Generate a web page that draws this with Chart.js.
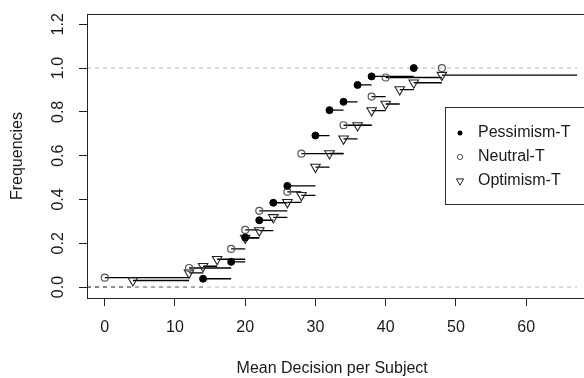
<!DOCTYPE html>
<html>
<head>
<meta charset="utf-8">
<script src="https://cdn.jsdelivr.net/npm/chart.js@4.4.0/dist/chart.umd.min.js"></script>
<style>html,body{margin:0;padding:0;background:#fff}</style>
</head>
<body>
<canvas id="myChart" width="584" height="378"></canvas>
<script>
// ECDF of mean decision per subject, three treatments
var xTicks = [0, 10, 20, 30, 40, 50, 60];
var yTicks = [0, 0.2, 0.4, 0.6, 0.8, 1.0, 1.2];
var yTickLabels = ['0.0', '0.2', '0.4', '0.6', '0.8', '1.0', '1.2'];
var seriesNames = ['Pessimism-T', 'Neutral-T', 'Optimism-T'];

var pessX = [14, 18, 20, 22, 24, 26, 30, 32, 34, 36, 38, 44];
var pessY = [0.038, 0.115, 0.226, 0.305, 0.385, 0.462, 0.692, 0.808, 0.846, 0.923, 0.962, 1.0];
var neutX = [0, 12, 18, 20, 22, 26, 28, 34, 38, 40, 48];
var neutY = [0.043, 0.087, 0.174, 0.261, 0.348, 0.435, 0.609, 0.739, 0.870, 0.957, 1.0];
var optX = [4, 12, 14, 16, 20, 22, 24, 26, 28, 30, 32, 34, 36, 38, 40, 42, 44, 48];
var optY = [0.03, 0.065, 0.095, 0.127, 0.224, 0.258, 0.318, 0.387, 0.419, 0.548, 0.61, 0.677, 0.738, 0.806, 0.836, 0.902, 0.933, 0.968];

var xMin = -2.53, xMax = 67.3;
var yMin = -0.05, yMax = 1.247;

function pts(xs, ys) {
  return xs.map(function(x, i) { return {x: x, y: ys[i]}; });
}

// horizontal step segments, no verticals
function steps(xs, ys) {
  var out = [];
  for (var i = 0; i < xs.length; i++) {
    var end = i + 1 < xs.length ? xs[i + 1] : (ys[i] < 1 ? xMax : null);
    if (end === null) continue;
    out.push({x: xs[i], y: ys[i]}, {x: end, y: ys[i]}, {x: end, y: null});
  }
  return out;
}

var leading = [];
[pessX, neutX, optX].forEach(function(xs) {
  leading.push({x: xMin, y: 0}, {x: xs[0], y: 0}, {x: xs[0], y: null});
});

var textColor = '#1a1a1a';
Chart.defaults.font.family = '"Liberation Sans", Arial, sans-serif';
Chart.defaults.font.size = 16;
Chart.defaults.color = textColor;

var segStyle = {showLine: true, pointRadius: 0, borderColor: '#000', borderWidth: 1.3, spanGaps: false, fill: false};

var datasets = [
  {label: seriesNames[0], data: pts(pessX, pessY), pointStyle: 'circle', pointRadius: 3.5,
   backgroundColor: '#000', borderColor: '#000', borderWidth: 1},
  {label: seriesNames[1], data: pts(neutX, neutY), pointStyle: 'circle', pointRadius: 3.5,
   backgroundColor: 'rgba(0,0,0,0)', borderColor: '#555', borderWidth: 1.2},
  {label: seriesNames[2], data: pts(optX, optY), pointStyle: 'triangle', rotation: 180, pointRadius: 5.5,
   backgroundColor: 'rgba(0,0,0,0)', borderColor: '#222', borderWidth: 1.1},
  Object.assign({label: 'segP', data: steps(pessX, pessY)}, segStyle),
  Object.assign({label: 'segN', data: steps(neutX, neutY)}, segStyle),
  Object.assign({label: 'segO', data: steps(optX, optY)}, segStyle),
  {label: 'lead', data: leading, showLine: true, pointRadius: 0, borderColor: '#777', borderWidth: 1,
   borderDash: [4, 4], spanGaps: false},
  {label: 'ref', data: [{x: xMin, y: 0}, {x: xMax, y: 0}, {x: xMax, y: null}, {x: xMin, y: 1}, {x: xMax, y: 1}],
   showLine: true, pointRadius: 0, borderColor: '#b5b5b5', borderWidth: 1, borderDash: [4, 4], spanGaps: false}
];

var extras = {
  id: 'extras',
  afterDraw: function(chart) {
    var ctx = chart.ctx, a = chart.chartArea, ys = chart.scales.y;
    ctx.save();
    // box
    ctx.strokeStyle = '#222';
    ctx.lineWidth = 1;
    ctx.strokeRect(a.left + 0.5, a.top + 0.5, a.right - a.left + 10, a.bottom - a.top);
    // rotated y tick labels
    ctx.fillStyle = textColor;
    ctx.font = '16px "Liberation Sans", Arial, sans-serif';
    ctx.textAlign = 'center';
    ctx.textBaseline = 'middle';
    yTicks.forEach(function(v, i) {
      ctx.save();
      ctx.translate(59, ys.getPixelForValue(v));
      ctx.rotate(-Math.PI / 2);
      ctx.fillText(yTickLabels[i], 0, 0);
      ctx.restore();
    });
    // legend
    var lx = 445, ly = 107, lh = 97;
    ctx.fillStyle = '#fff';
    ctx.fillRect(lx, ly, 160, lh);
    ctx.strokeStyle = '#333';
    ctx.strokeRect(lx + 0.5, ly + 0.5, 160, lh);
    ctx.textAlign = 'left';
    var rows = [133, 157, 181];
    rows.forEach(function(ry, i) {
      var mx = 460;
      ctx.lineWidth = 1;
      if (i === 0) {
        ctx.fillStyle = '#000';
        ctx.beginPath(); ctx.arc(mx, ry, 2.5, 0, Math.PI * 2); ctx.fill();
      } else if (i === 1) {
        ctx.strokeStyle = '#555';
        ctx.beginPath(); ctx.arc(mx, ry, 2.6, 0, Math.PI * 2); ctx.stroke();
      } else {
        var r = 4.2;
        ctx.strokeStyle = '#222';
        ctx.beginPath();
        ctx.moveTo(mx, ry + r);
        ctx.lineTo(mx + r * 0.866, ry - r / 2);
        ctx.lineTo(mx - r * 0.866, ry - r / 2);
        ctx.closePath(); ctx.stroke();
      }
      ctx.fillStyle = textColor;
      ctx.fillText(seriesNames[i], 478, ry);
    });
    ctx.restore();
  }
};

var ctx = document.getElementById('myChart').getContext('2d');
var myChart = new Chart(ctx, {
  type: 'scatter',
  data: {datasets: datasets},
  options: {
    responsive: false,
    animation: false,
    layout: {padding: {top: 14, right: 0, left: 0, bottom: 0}},
    plugins: {legend: {display: false}, tooltip: {enabled: false}},
    scales: {
      x: {
        type: 'linear', min: xMin, max: xMax,
        afterBuildTicks: function(s) { s.ticks = xTicks.map(function(v) { return {value: v}; }); },
        afterFit: function(s) { s.height = 80; },
        ticks: {padding: 12, color: textColor, callback: function(v) { return String(v); }},
        grid: {drawOnChartArea: false, drawTicks: true, tickLength: 8, color: '#222'},
        border: {display: false},
        title: {display: true, text: 'Mean Decision per Subject', color: textColor, padding: {top: 0, bottom: 0}}
      },
      y: {
        type: 'linear', min: yMin, max: yMax,
        afterBuildTicks: function(s) { s.ticks = yTicks.map(function(v) { return {value: v}; }); },
        afterFit: function(s) { s.width = 87; },
        ticks: {display: false},
        grid: {drawOnChartArea: false, drawTicks: true, tickLength: 8, color: '#222'},
        border: {display: false},
        title: {display: true, text: 'Frequencies', color: textColor, padding: {top: 8, bottom: 0}}
      }
    }
  },
  plugins: [extras]
});
</script>
</body>
</html>
